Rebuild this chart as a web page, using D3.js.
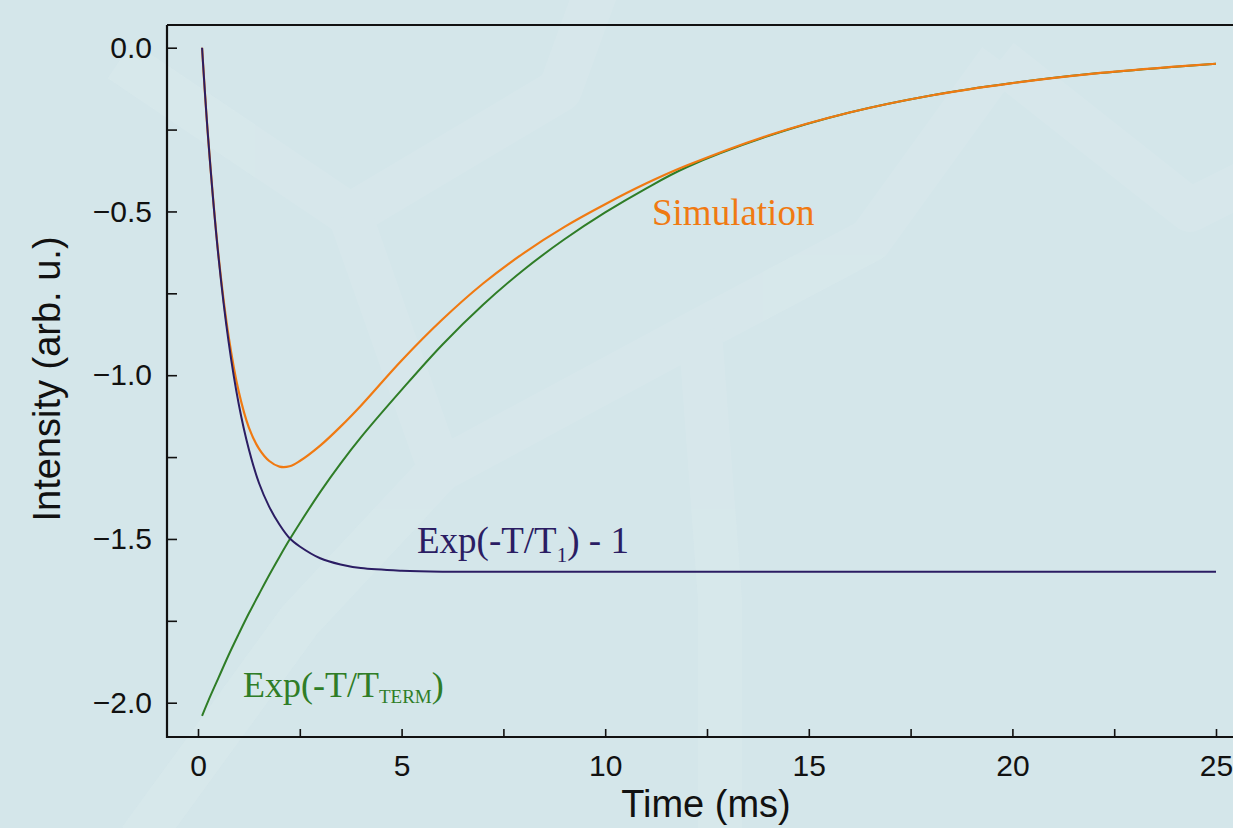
<!DOCTYPE html>
<html>
<head>
<meta charset="utf-8">
<script src="https://cdn.jsdelivr.net/npm/d3@7"></script>
<style>
  html, body { margin: 0; padding: 0; background: #d4e6ea; overflow: hidden; }
  svg { display: block; }
</style>
</head>
<body>
<div id="chart"></div>
<script>
// time samples (ms)
const time = [0.1, 0.25, 0.5, 0.75, 1, 1.25, 1.5, 1.75, 2, 2.25, 2.5, 3, 3.5, 4, 5, 6, 7, 8, 9, 10, 11, 12, 14, 16, 18, 20, 22, 24, 25];

const simulation = [0, -0.277, -0.63, -0.88, -1.05, -1.16, -1.225, -1.262, -1.279, -1.278, -1.262, -1.215, -1.157, -1.093, -0.955, -0.83, -0.72, -0.627, -0.547, -0.478, -0.415, -0.36, -0.268, -0.198, -0.146, -0.108, -0.079, -0.058, -0.049];
const expT1 = [0, -0.277, -0.635, -0.897, -1.088, -1.227, -1.33, -1.402, -1.456, -1.498, -1.523, -1.559, -1.578, -1.589, -1.597, -1.6, -1.6, -1.6, -1.6, -1.6, -1.6, -1.6, -1.6, -1.6, -1.6, -1.6, -1.6, -1.6, -1.6];
const expTerm = [-2.04, -1.995, -1.925, -1.855, -1.79, -1.727, -1.668, -1.61, -1.555, -1.502, -1.452, -1.357, -1.27, -1.19, -1.045, -0.907, -0.785, -0.678, -0.585, -0.503, -0.43, -0.365, -0.27, -0.198, -0.146, -0.108, -0.079, -0.058, -0.049];

const xTicks = [0, 5, 10, 15, 20, 25];
const xMinor = [2.5, 7.5, 12.5, 17.5, 22.5];
const yTicks = [0, -0.5, -1, -1.5, -2];
const yMinor = [-0.25, -0.75, -1.25, -1.75];

const W = 1233, H = 828;
const plotLeft = 167, plotTop = 25, plotBottom = 737;

const svg = d3.select("#chart").append("svg")
  .attr("width", W).attr("height", H);

// faint background pattern
const bg = svg.append("g").attr("fill", "none").attr("stroke", "#dbeaee")
  .attr("stroke-width", 44).attr("stroke-linejoin", "round").attr("opacity", 0.45);
bg.append("path").attr("d", "M120,60 L350,215 L560,90 L600,-20");
bg.append("path").attr("d", "M350,215 L440,470 L700,330 L870,240 L1000,60");
bg.append("path").attr("d", "M700,330 L720,600 L720,840");
bg.append("path").attr("d", "M1000,60 L1190,210 L1250,180");
bg.append("path").attr("d", "M440,470 L300,620 L140,840");

const x = d3.scaleLinear().domain([0, 25]).range([198, 1216]);
const y = d3.scaleLinear().domain([0, -2]).range([47.7, 702.7]);

// frame
svg.append("path")
  .attr("d", `M${plotLeft},${plotTop} L1300,${plotTop} M${plotLeft},${plotTop} L${plotLeft},${plotBottom} L1300,${plotBottom}`)
  .attr("fill", "none").attr("stroke", "#111").attr("stroke-width", 2.2);

// X Axis
svg.append("g")
  .attr("class", "axis")
  .attr("transform", `translate(0,${plotBottom})`)
  .call(d3.axisBottom(x).tickValues(xTicks).tickSize(-8).tickPadding(18).tickFormat(d3.format("d")));
svg.append("g")
  .attr("class", "axis")
  .attr("transform", `translate(0,${plotBottom})`)
  .call(d3.axisBottom(x).tickValues(xMinor).tickSize(-8).tickFormat(""));

// Y Axis
svg.append("g")
  .attr("class", "axis")
  .attr("transform", `translate(${plotLeft},0)`)
  .call(d3.axisLeft(y).tickValues(yTicks).tickSize(-10).tickPadding(15).tickFormat(d3.format(".1f")));
svg.append("g")
  .attr("class", "axis")
  .attr("transform", `translate(${plotLeft},0)`)
  .call(d3.axisLeft(y).tickValues(yMinor).tickSize(-10).tickFormat(""));

svg.selectAll(".axis .domain").remove();
svg.selectAll(".axis line").attr("stroke", "#111").attr("stroke-width", 1.6);
svg.selectAll(".axis text")
  .attr("fill", "#111")
  .style("font-family", "'Liberation Sans', Arial, sans-serif")
  .style("font-size", "30px");

// axis titles
svg.append("text")
  .attr("transform", "translate(60,379) rotate(-90)")
  .attr("text-anchor", "middle")
  .style("font-family", "'Liberation Sans', Arial, sans-serif")
  .style("font-size", "38px")
  .attr("fill", "#111")
  .text("Intensity (arb. u.)");

svg.append("text")
  .attr("x", 706).attr("y", 817)
  .attr("text-anchor", "middle")
  .style("font-family", "'Liberation Sans', Arial, sans-serif")
  .style("font-size", "38px")
  .attr("fill", "#111")
  .text("Time (ms)");

// curves
const line = vals => d3.line()
  .x((d, i) => x(time[i]))
  .y(d => y(d))
  .curve(d3.curveCatmullRom.alpha(0.5))(vals);

svg.append("path").attr("d", line(expTerm))
  .attr("fill", "none").attr("stroke", "#2f7d27").attr("stroke-width", 2);
svg.append("path").attr("d", line(simulation))
  .attr("fill", "none").attr("stroke", "#f07a12").attr("stroke-width", 2.2);
svg.append("path").attr("d", line(expT1))
  .attr("fill", "none").attr("stroke", "#2b1d63").attr("stroke-width", 2);

// labels
const serif = "'Liberation Serif', 'Times New Roman', serif";
svg.append("text")
  .attr("x", 652).attr("y", 225)
  .style("font-family", serif).style("font-size", "37px")
  .attr("fill", "#f07a12")
  .text("Simulation");

const t1 = svg.append("text")
  .attr("x", 417).attr("y", 553)
  .style("font-family", serif).style("font-size", "37px")
  .attr("fill", "#2b1d63");
t1.append("tspan").text("Exp(-T/T");
t1.append("tspan").attr("dy", 9).style("font-size", "21px").text("1");
t1.append("tspan").attr("dy", -9).text(") - 1");

const tt = svg.append("text")
  .attr("x", 243).attr("y", 697)
  .style("font-family", serif).style("font-size", "36px")
  .attr("fill", "#2f7d27");
tt.append("tspan").text("Exp(-T/T");
tt.append("tspan").attr("dy", 6).style("font-size", "19px").text("TERM");
tt.append("tspan").attr("dy", -6).text(")");
</script>
</body>
</html>
